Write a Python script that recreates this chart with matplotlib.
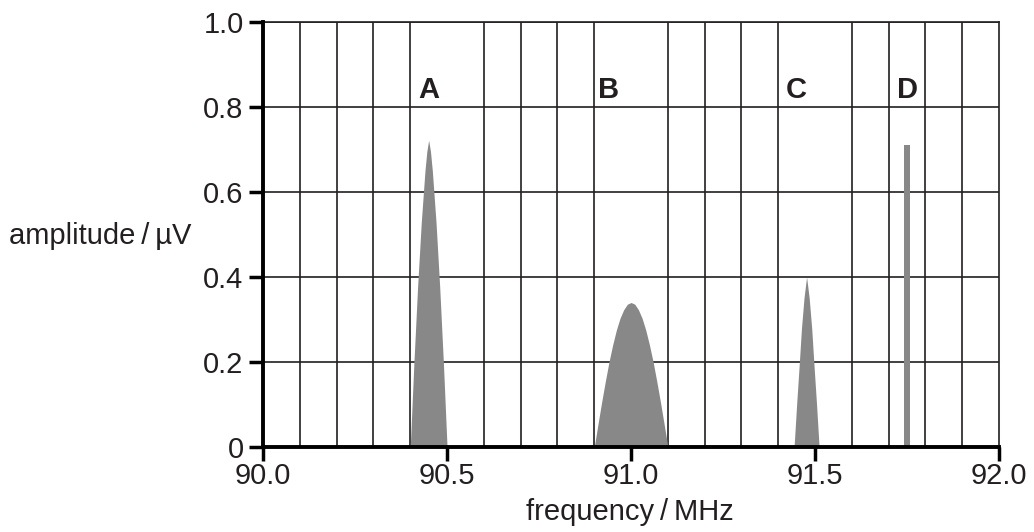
import matplotlib
matplotlib.use('Agg')
import matplotlib.pyplot as plt

plt.rcParams['font.family'] = ['Liberation Sans', 'DejaVu Sans']

# peak outlines (frequency in MHz, amplitude in uV)
freq_a = [90.400, 90.410, 90.420, 90.430, 90.440, 90.445, 90.450,
          90.455, 90.460, 90.470, 90.480, 90.490, 90.500]
amp_a = [0.0, 0.199, 0.377, 0.529, 0.650, 0.695, 0.722,
         0.695, 0.650, 0.529, 0.377, 0.199, 0.0]

freq_b = [90.90, 90.91, 90.92, 90.93, 90.94, 90.95, 90.96, 90.97, 90.98, 90.99, 91.00,
          91.01, 91.02, 91.03, 91.04, 91.05, 91.06, 91.07, 91.08, 91.09, 91.10]
amp_b = [0.0, 0.053, 0.105, 0.154, 0.200, 0.240, 0.275, 0.303, 0.323, 0.336, 0.340,
         0.336, 0.323, 0.303, 0.275, 0.240, 0.200, 0.154, 0.105, 0.053, 0.0]

freq_c = [91.443, 91.450, 91.457, 91.463, 91.470, 91.477,
          91.484, 91.491, 91.497, 91.504, 91.511]
amp_c = [0.0, 0.101, 0.194, 0.278, 0.351, 0.400,
         0.351, 0.278, 0.194, 0.101, 0.0]

freq_d = [91.75]
amp_d = [0.71]

peak_names = ['A', 'B', 'C', 'D']
peak_label_x = [90.45, 90.94, 91.45, 91.75]

x_ticks = [90.0, 90.5, 91.0, 91.5, 92.0]
x_ticklabels = ['90.0', '90.5', '91.0', '91.5', '92.0']
y_ticks = [0, 0.2, 0.4, 0.6, 0.8, 1.0]
y_ticklabels = ['0', '0.2', '0.4', '0.6', '0.8', '1.0']

txt = '#231f20'
fill = '#888888'
fs = 21

fig = plt.figure(figsize=(10.34, 5.32), dpi=100)
ax = fig.add_axes([0.2544, 0.1598, 0.9662 - 0.2544, 0.9586 - 0.1598])

ax.set_xlim(90.0, 92.0)
ax.set_ylim(0, 1.0)

# grid every 0.1 MHz and 0.2 uV
ax.set_xticks([90.0 + 0.1 * i for i in range(21)], minor=True)
ax.grid(True, which='minor', axis='x', color='#231f20', lw=1.2, zorder=1)
ax.grid(True, which='major', axis='y', color='#231f20', lw=1.2, zorder=1)
ax.tick_params(axis='x', which='minor', length=0)

ax.fill_between(freq_a, amp_a, 0, color=fill, lw=0, zorder=2)
ax.fill_between(freq_b, amp_b, 0, color=fill, lw=0, zorder=2)
ax.fill_between(freq_c, amp_c, 0, color=fill, lw=0, zorder=2)
ax.bar(freq_d, amp_d, width=0.014, color=fill, lw=0, zorder=2)

for name, xp in zip(peak_names, peak_label_x):
    ax.text(xp, 0.84, name, ha='center', va='center', fontsize=fs,
            fontweight='bold', color=txt, zorder=3)

ax.set_xticks(x_ticks)
ax.set_xticklabels(x_ticklabels)
ax.set_yticks(y_ticks)
ax.set_yticklabels(y_ticklabels)
ax.tick_params(axis='both', which='major', direction='out', length=10, width=2.5,
               color='black', labelsize=fs, labelcolor=txt, pad=4)
ax.tick_params(axis='x', which='major', pad=1)

for side in ['left', 'bottom']:
    ax.spines[side].set_linewidth(2.8)
    ax.spines[side].set_color('black')
    ax.spines[side].set_zorder(4)
for side in ['top', 'right']:
    ax.spines[side].set_linewidth(1.2)
    ax.spines[side].set_color('#231f20')

fig.text(0.609, 0.038, 'frequency\u2009/\u2009MHz',
         ha='center', va='center', fontsize=fs, color=txt)
fig.text(0.009, 0.556, 'amplitude\u2009/\u2009\u00b5V', ha='left', va='center',
         fontsize=fs, color=txt)

fig.savefig('out.png', dpi=100)
